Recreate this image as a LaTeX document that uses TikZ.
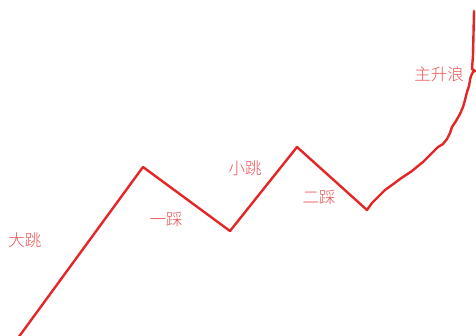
\documentclass[tikz,border=0pt]{standalone}
\usepackage{fontspec}
\newfontfamily\cjk{Noto Sans CJK SC Light}
\usetikzlibrary{positioning}
\definecolor{wavered}{RGB}{228,38,38}
\definecolor{labelred}{RGB}{236,84,84}
\tikzstyle{every node}=[text=labelred,font=\cjk\fontsize{16.5}{18}\selectfont,inner sep=0pt]
\tikzstyle{wave}=[draw=wavered,line width=2.4pt,line join=round,line cap=round]

\begin{document}
\begin{tikzpicture}[x=1pt,y=-1pt]
\useasboundingbox (0,0) rectangle (476,335);
% turning points of the move
\coordinate (start) at (18,338);
\coordinate (top1) at (143,167);
\coordinate (low1) at (230,231);
\coordinate (top2) at (297,147);
\coordinate (low2) at (367,210);
\coordinate (hook) at (473,72);
\coordinate (end) at (474,11);
\draw[wave] (start) -- (top1) -- (low1) -- (top2) -- (low2)
  -- (372,203) -- (378,197) -- (385,190) -- (392,185) -- (400,179)
  -- (406,175) -- (412,171) -- (418,166) -- (423,162) -- (428,157)
  -- (433,152) -- (438,147) -- (443,144) -- (447,139) -- (450,133)
  -- (452,127) -- (456,121) -- (460,114) -- (463,107) -- (465,100)
  -- (467,92) -- (469,86) -- (470,80) -- (471,76) -- (hook)
  -- (475,71) -- (472,69) -- (473,55) -- (end);
% labels
\node (dati) at (25,240) {大跳};
\node (yicai) at (166,219) {一踩};
\node (xiaoti) at (245,168) {小跳};
\node (ercai) at (319,197) {二踩};
\node (zhusheng) at (439,74) {主升浪};
\end{tikzpicture}
\end{document}
